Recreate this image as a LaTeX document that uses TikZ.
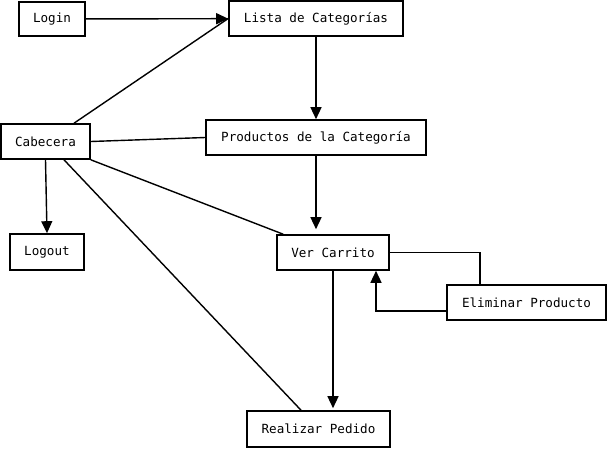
\documentclass[tikz,border=0pt]{standalone}
\usepackage{fontspec}
\setmonofont{DejaVu Sans Mono}
\usetikzlibrary{arrows.meta}

\tikzset{
    pantalla/.style={draw, line width=1.6pt, inner sep=0pt, font=\ttfamily\fontsize{12.6}{14}\selectfont},
    enlace/.style={line width=1.4pt},
    flecha/.style={enlace, -{Triangle[length=12pt, width=11pt]}}
}

\begin{document}
\begin{tikzpicture}[x=1pt, y=-1pt]
    \useasboundingbox (0, 0) rectangle (608, 450);

    % Screens
    \node[pantalla, minimum width=66pt, minimum height=34pt] (login) at (52, 19) {Login};
    \node[pantalla, minimum width=174pt, minimum height=35pt] (lista) at (316, 18.5) {Lista de Categorías};
    \node[pantalla, minimum width=89pt, minimum height=35pt] (cab) at (45.5, 141.5) {Cabecera};
    \node[pantalla, minimum width=220pt, minimum height=35pt] (prod) at (316, 137.5) {Productos de la Categoría};
    \node[pantalla, minimum width=74pt, minimum height=36pt] (logout) at (47, 252) {Logout};
    \node[pantalla, minimum width=112pt, minimum height=35pt] (ver) at (333, 252.5) {Ver Carrito};
    \node[pantalla, minimum width=159pt, minimum height=35pt] (elim) at (526.5, 302.5) {Eliminar Producto};
    \node[pantalla, minimum width=143pt, minimum height=36pt] (ped) at (318.5, 429) {Realizar Pedido};

    % Arrows
    \draw[flecha] (login) -- (lista);
    \draw[flecha] (lista) -- (prod);
    \draw[flecha, shorten >=5pt] (prod.south) -- (prod.south |- ver.north);
    \draw[flecha] (cab.south) -- (logout.north);
    \draw[flecha, shorten >=2pt] (ver.south) -- (ver.south |- ped.north);
    \draw[flecha] ([yshift=-8.5pt]elim.west) -| ([xshift=43pt]ver.south);

    % Plain links
    \draw[enlace] ([xshift=28.5pt]cab.north) -- (lista.west);
    \draw[enlace] (cab.east) -- (prod.west);
    \draw[enlace] (cab.south east) -- ([xshift=7pt]ver.north west);
    \draw[enlace] ([xshift=18.5pt]cab.south) -- ([xshift=-17.5pt]ped.north);
    \draw[enlace] (ver.east) -| ([xshift=-46.5pt]elim.north);
\end{tikzpicture}
\end{document}
